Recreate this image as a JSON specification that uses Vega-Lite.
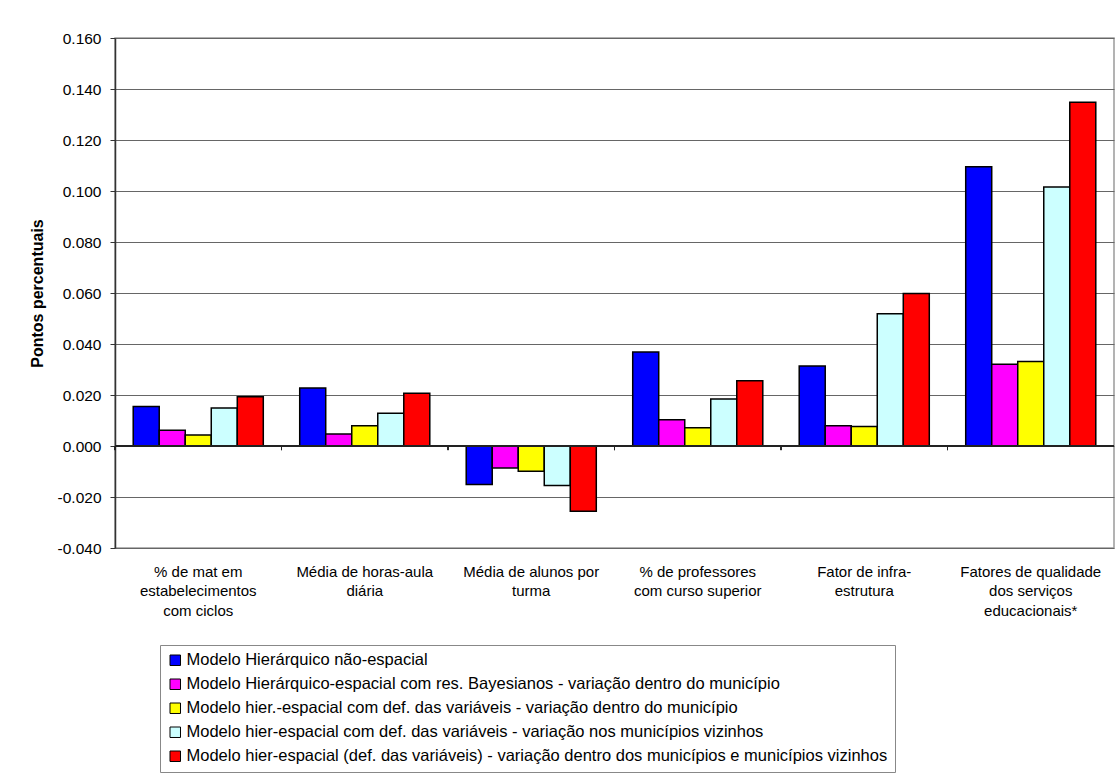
{
  "$schema": "https://vega.github.io/schema/vega-lite/v6.json",
  "width": 999,
  "height": 510,
  "autosize": {"type": "none"},
  "padding": {"left": 115, "top": 38, "right": 2, "bottom": 230},
  "background": "white",
  "config": {
    "font": "Liberation Sans",
    "view": {"stroke": "#9a9a9a", "strokeWidth": 1.5}
  },
  "data": {
    "values": [
      {"cat": "% de mat em|estabelecimentos|com ciclos", "model": "Modelo Hierárquico não-espacial", "value": 0.0155},
      {"cat": "% de mat em|estabelecimentos|com ciclos", "model": "Modelo Hierárquico-espacial com res. Bayesianos - variação dentro do município", "value": 0.0062},
      {"cat": "% de mat em|estabelecimentos|com ciclos", "model": "Modelo hier.-espacial com def. das variáveis - variação dentro do município", "value": 0.0043},
      {"cat": "% de mat em|estabelecimentos|com ciclos", "model": "Modelo hier-espacial com def. das variáveis - variação nos municípios vizinhos", "value": 0.0149},
      {"cat": "% de mat em|estabelecimentos|com ciclos", "model": "Modelo hier-espacial (def. das variáveis) - variação dentro dos municípios e municípios vizinhos", "value": 0.0193},
      {"cat": "Média de horas-aula|diária", "model": "Modelo Hierárquico não-espacial", "value": 0.0227},
      {"cat": "Média de horas-aula|diária", "model": "Modelo Hierárquico-espacial com res. Bayesianos - variação dentro do município", "value": 0.0047},
      {"cat": "Média de horas-aula|diária", "model": "Modelo hier.-espacial com def. das variáveis - variação dentro do município", "value": 0.0079},
      {"cat": "Média de horas-aula|diária", "model": "Modelo hier-espacial com def. das variáveis - variação nos municípios vizinhos", "value": 0.0128},
      {"cat": "Média de horas-aula|diária", "model": "Modelo hier-espacial (def. das variáveis) - variação dentro dos municípios e municípios vizinhos", "value": 0.0207},
      {"cat": "Média de alunos por|turma", "model": "Modelo Hierárquico não-espacial", "value": -0.0151},
      {"cat": "Média de alunos por|turma", "model": "Modelo Hierárquico-espacial com res. Bayesianos - variação dentro do município", "value": -0.0086},
      {"cat": "Média de alunos por|turma", "model": "Modelo hier.-espacial com def. das variáveis - variação dentro do município", "value": -0.0099},
      {"cat": "Média de alunos por|turma", "model": "Modelo hier-espacial com def. das variáveis - variação nos municípios vizinhos", "value": -0.0155},
      {"cat": "Média de alunos por|turma", "model": "Modelo hier-espacial (def. das variáveis) - variação dentro dos municípios e municípios vizinhos", "value": -0.0256},
      {"cat": "% de professores|com curso superior", "model": "Modelo Hierárquico não-espacial", "value": 0.0369},
      {"cat": "% de professores|com curso superior", "model": "Modelo Hierárquico-espacial com res. Bayesianos - variação dentro do município", "value": 0.0103},
      {"cat": "% de professores|com curso superior", "model": "Modelo hier.-espacial com def. das variáveis - variação dentro do município", "value": 0.0072},
      {"cat": "% de professores|com curso superior", "model": "Modelo hier-espacial com def. das variáveis - variação nos municípios vizinhos", "value": 0.0184},
      {"cat": "% de professores|com curso superior", "model": "Modelo hier-espacial (def. das variáveis) - variação dentro dos municípios e municípios vizinhos", "value": 0.0256},
      {"cat": "Fator de infra-|estrutura", "model": "Modelo Hierárquico não-espacial", "value": 0.0314},
      {"cat": "Fator de infra-|estrutura", "model": "Modelo Hierárquico-espacial com res. Bayesianos - variação dentro do município", "value": 0.0079},
      {"cat": "Fator de infra-|estrutura", "model": "Modelo hier.-espacial com def. das variáveis - variação dentro do município", "value": 0.0076},
      {"cat": "Fator de infra-|estrutura", "model": "Modelo hier-espacial com def. das variáveis - variação nos municípios vizinhos", "value": 0.0519},
      {"cat": "Fator de infra-|estrutura", "model": "Modelo hier-espacial (def. das variáveis) - variação dentro dos municípios e municípios vizinhos", "value": 0.0598},
      {"cat": "Fatores de qualidade|dos serviços|educacionais*", "model": "Modelo Hierárquico não-espacial", "value": 0.1095},
      {"cat": "Fatores de qualidade|dos serviços|educacionais*", "model": "Modelo Hierárquico-espacial com res. Bayesianos - variação dentro do município", "value": 0.0321},
      {"cat": "Fatores de qualidade|dos serviços|educacionais*", "model": "Modelo hier.-espacial com def. das variáveis - variação dentro do município", "value": 0.0331},
      {"cat": "Fatores de qualidade|dos serviços|educacionais*", "model": "Modelo hier-espacial com def. das variáveis - variação nos municípios vizinhos", "value": 0.1016},
      {"cat": "Fatores de qualidade|dos serviços|educacionais*", "model": "Modelo hier-espacial (def. das variáveis) - variação dentro dos municípios e municípios vizinhos", "value": 0.1348}
    ]
  },
  "layer": [
    {
      "mark": {"type": "bar", "stroke": "black", "strokeWidth": 1.5},
      "encoding": {
        "x": {
          "field": "cat", "type": "nominal", "sort": null, "title": null,
          "scale": {"paddingInner": 0, "paddingOuter": 0},
          "axis": {
            "labelExpr": "split(datum.label, '|')",
            "labelAngle": 0, "ticks": false, "domain": false,
            "labelFontSize": 15, "labelColor": "black",
            "labelPadding": 16, "labelLineHeight": 19.5, "labelLimit": 300
          }
        },
        "xOffset": {
          "field": "model", "type": "nominal", "sort": null,
          "scale": {"paddingInner": 0, "paddingOuter": 0.7}
        },
        "y": {
          "field": "value", "type": "quantitative",
          "scale": {"domain": [-0.04, 0.16], "nice": false, "zero": false},
          "axis": {
            "values": [-0.04, -0.02, 0, 0.02, 0.04, 0.06, 0.08, 0.1, 0.12, 0.14, 0.16],
            "labelExpr": "replace(format(datum.value, '.3f'), '\u2212', '-')",
            "grid": true, "gridColor": "#666", "gridWidth": 1,
            "domainColor": "#333", "domainWidth": 1.5, "tickColor": "#333", "tickSize": 5,
            "labelFontSize": 15.5, "labelColor": "black", "labelPadding": 9,
            "title": "Pontos percentuais", "titleFontSize": 16, "titleFontWeight": "bold",
            "titleColor": "black", "titlePadding": 12
          }
        },
        "color": {
          "field": "model", "type": "nominal", "sort": null,
          "scale": {
            "domain": [
              "Modelo Hierárquico não-espacial",
              "Modelo Hierárquico-espacial com res. Bayesianos - variação dentro do município",
              "Modelo hier.-espacial com def. das variáveis - variação dentro do município",
              "Modelo hier-espacial com def. das variáveis - variação nos municípios vizinhos",
              "Modelo hier-espacial (def. das variáveis) - variação dentro dos municípios e municípios vizinhos"
            ],
            "range": ["#0000ff", "#ff00ff", "#ffff00", "#ccffff", "#ff0000"]
          },
          "legend": {
            "title": null, "orient": "none", "legendX": 45, "legendY": 607,
            "direction": "vertical",
            "symbolType": "square", "symbolSize": 110, "symbolStrokeColor": "black",
            "symbolStrokeWidth": 1, "symbolOpacity": 1,
            "labelFontSize": 16.5, "labelColor": "black", "labelLimit": 1200, "labelOffset": 3,
            "rowPadding": 7, "padding": 7,
            "strokeColor": "#888", "fillColor": "white"
          }
        }
      }
    },
    {
      "mark": {"type": "rule", "color": "#222", "strokeWidth": 1.2},
      "encoding": {"y": {"datum": 0}}
    },
    {
      "mark": {"type": "rule", "color": "#222", "strokeWidth": 1},
      "encoding": {
        "x": {"field": "cat", "type": "nominal", "sort": null, "bandPosition": 0},
        "y": {"datum": 0},
        "y2": {"datum": -0.0016}
      }
    }
  ]
}
